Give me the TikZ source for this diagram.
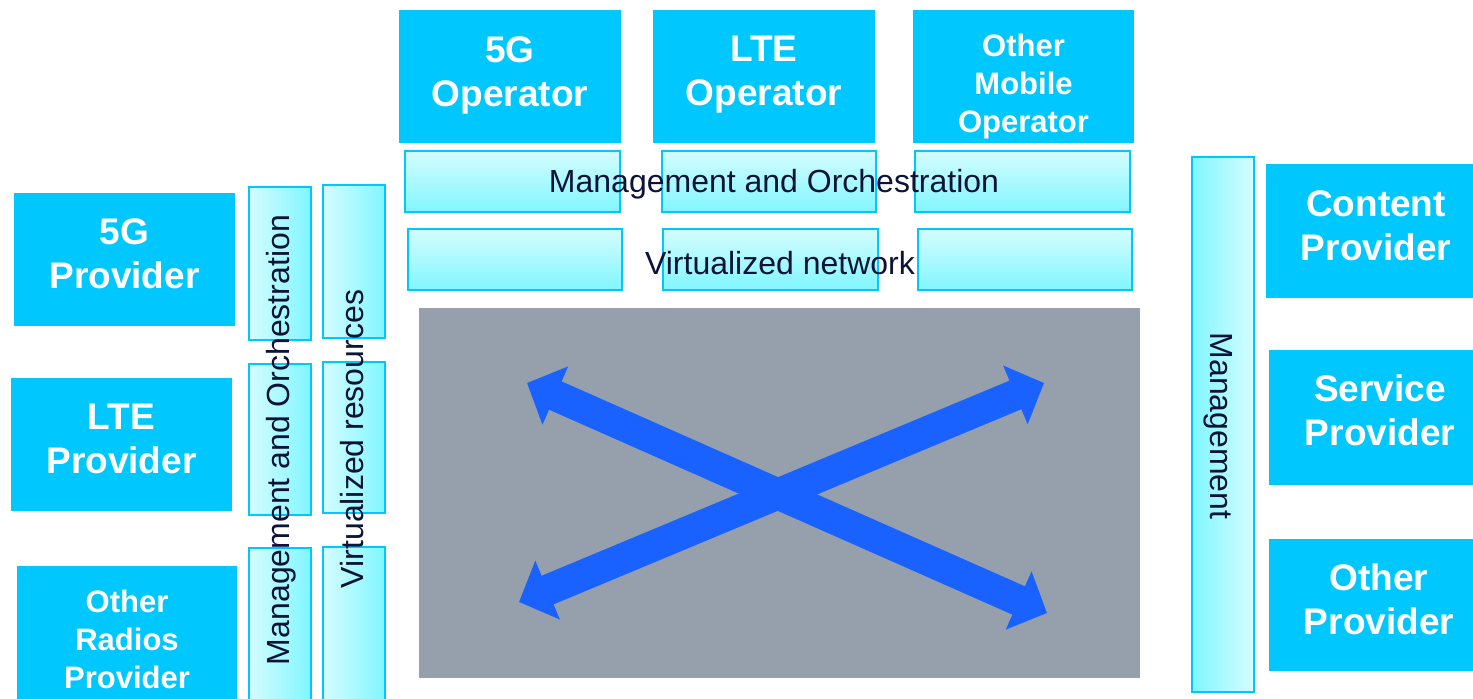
\documentclass[tikz,border=0pt]{standalone}
\usepackage{fontspec}
\setmainfont{Liberation Sans}
\usetikzlibrary{arrows.meta}
\definecolor{cy}{HTML}{00C8FF}
\definecolor{lightcy}{HTML}{D4FDFF}
\definecolor{darkcy}{HTML}{80F6FF}
\definecolor{navy}{HTML}{0B1438}
\definecolor{grayb}{HTML}{96A0AC}
\definecolor{arrowblue}{HTML}{1A62FF}
\tikzset{
  solidbox/.style={fill=cy, inner sep=0pt},
  boxtext/.style={text=white, align=center, inner sep=0pt,
    font=\bfseries\fontsize{37}{44}\selectfont},
  smalltext/.style={boxtext, font=\bfseries\fontsize{31}{38}\selectfont},
  vgrad/.style={draw=cy, line width=2pt, top color=lightcy, bottom color=darkcy, inner sep=0pt},
  hgradL/.style={draw=cy, line width=2pt, left color=lightcy, right color=darkcy, inner sep=0pt},
  hgradR/.style={draw=cy, line width=2pt, left color=darkcy, right color=lightcy, inner sep=0pt},
  label/.style={text=navy, inner sep=0pt, font=\fontsize{32}{38}\selectfont},
  bigarrow/.style={draw=arrowblue, line width=31pt,
    {Triangle[length=31pt,width=62pt]}-{Triangle[length=31pt,width=62pt]}}
}
\begin{document}
\begin{tikzpicture}[x=1pt,y=-1pt]
\useasboundingbox (0,0) rectangle (1473,699);
% top operators
\node[solidbox, minimum width=222pt, minimum height=133pt] (op5g) at (510,76.5) {};
\node[boxtext] (op5gt) at (510,75) {5G\\Operator};
\node[solidbox, minimum width=222pt, minimum height=133pt] (oplte) at (764,76.5) {};
\node[boxtext] (opltet) at (764,75) {LTE\\Operator};
\node[solidbox, minimum width=221pt, minimum height=133pt] (opother) at (1023.5,76.5) {};
\node[smalltext] (opothert) at (1023.5,86) {Other\\Mobile\\Operator};
% management and orchestration row
\node[vgrad, minimum width=215pt, minimum height=61pt] (mo1) at (512.5,181.5) {};
\node[vgrad, minimum width=214pt, minimum height=61pt] (mo2) at (769,181.5) {};
\node[vgrad, minimum width=215pt, minimum height=61pt] (mo3) at (1022.5,181.5) {};
\node[label] (motext) at (774,184) {Management and Orchestration};
% virtualized network row
\node[vgrad, minimum width=214pt, minimum height=61pt] (vn1) at (515,259.5) {};
\node[vgrad, minimum width=215pt, minimum height=61pt] (vn2) at (770.5,259.5) {};
\node[vgrad, minimum width=214pt, minimum height=61pt] (vn3) at (1025,259.5) {};
\node[label] (vntext) at (780,263) {Virtualized network};
% gray core
\node[fill=grayb, inner sep=0pt, minimum width=721pt, minimum height=370pt] (core) at (779.5,493) {};
\coordinate (ul) at (527,383);
\coordinate (lr) at (1047,613);
\coordinate (ur) at (1044,383);
\coordinate (ll) at (519,602);
\draw[bigarrow] (ul) -- (lr);
\draw[bigarrow] (ll) -- (ur);
% left providers
\node[solidbox, minimum width=221pt, minimum height=133pt] (pr5g) at (124.5,259.5) {};
\node[boxtext] (pr5gt) at (124.5,253.5) {5G\\Provider};
\node[solidbox, minimum width=221pt, minimum height=133pt] (prlte) at (121.5,444.5) {};
\node[boxtext] (prltet) at (121.5,438.5) {LTE\\Provider};
\node[solidbox, minimum width=220pt, minimum height=140pt] (prother) at (127,636) {};
\node[smalltext] (prothert) at (127,639) {Other\\Radios\\Provider};
% left columns
\node[hgradL, minimum width=62pt, minimum height=153pt] (lmo1) at (280,263.5) {};
\node[hgradL, minimum width=62pt, minimum height=151pt] (lmo2) at (280,439.5) {};
\node[hgradL, minimum width=62pt, minimum height=154pt] (lmo3) at (280,625) {};
\node[hgradL, minimum width=62pt, minimum height=153pt] (lvr1) at (354,261.5) {};
\node[hgradL, minimum width=62pt, minimum height=151pt] (lvr2) at (354,437.5) {};
\node[hgradL, minimum width=62pt, minimum height=155pt] (lvr3) at (354,624.5) {};
\node[label, rotate=90] (lmotext) at (281,440) {Management and Orchestration};
\node[label, rotate=90] (lvrtext) at (352,439) {Virtualized resources};
% right management
\node[hgradR, minimum width=62pt, minimum height=535pt] (rman) at (1223,424.5) {};
\node[label, rotate=-90] (rmantext) at (1218,426) {Management};
% right providers
\node[solidbox, minimum width=220pt, minimum height=134pt] (content) at (1376,231) {};
\node[boxtext] (contentt) at (1376,226) {Content\\Provider};
\node[solidbox, minimum width=220pt, minimum height=135pt] (service) at (1379,417.5) {};
\node[boxtext] (servicet) at (1380,410.5) {Service\\Provider};
\node[solidbox, minimum width=220pt, minimum height=132pt] (otherp) at (1379,605) {};
\node[boxtext] (otherpt) at (1379,599) {Other\\Provider};
\end{tikzpicture}
\end{document}
